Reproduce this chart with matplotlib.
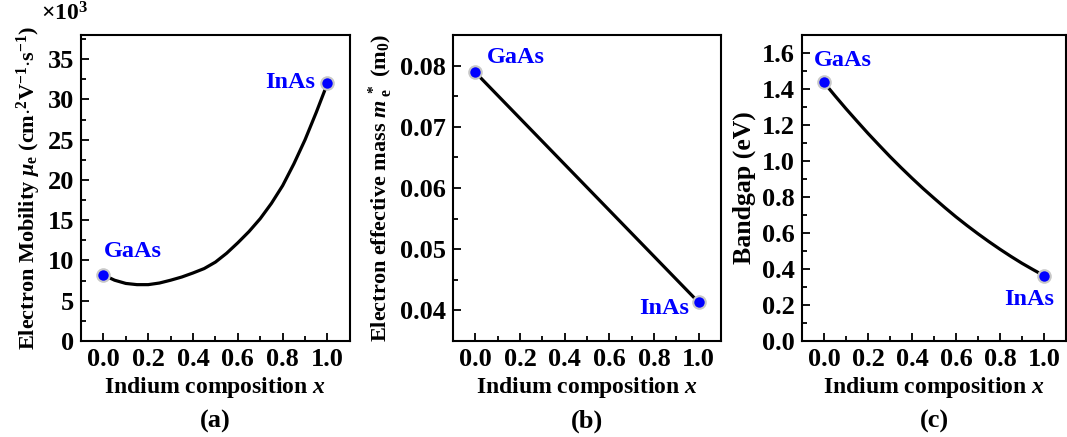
import matplotlib
matplotlib.use("Agg")
import matplotlib.pyplot as plt
from matplotlib.ticker import MultipleLocator

plt.rcParams['font.family'] = 'Liberation Serif'
plt.rcParams['font.weight'] = 'bold'
plt.rcParams['axes.labelweight'] = 'bold'
plt.rcParams['mathtext.fontset'] = 'custom'
plt.rcParams['mathtext.rm'] = 'Liberation Serif:bold'
plt.rcParams['mathtext.it'] = 'Liberation Serif:bold:italic'
plt.rcParams['mathtext.bf'] = 'Liberation Serif:bold'

# indium composition for curves
x_comp = [0.0, 0.05, 0.1, 0.15, 0.2, 0.25, 0.3, 0.35, 0.4, 0.45, 0.5,
          0.55, 0.6, 0.65, 0.7, 0.75, 0.8, 0.85, 0.9, 0.95, 1.0]
# electron mobility (x10^3 cm2/Vs)
mobility = [8.2, 7.55, 7.15, 7.0, 7.0, 7.2, 7.55, 7.95, 8.45, 9.0, 9.8,
            10.9, 12.2, 13.6, 15.2, 17.1, 19.3, 22.0, 25.0, 28.4, 32.0]
# bandgap (eV)
bandgap = [1.437, 1.363, 1.291, 1.222, 1.154, 1.089, 1.025, 0.964, 0.905, 0.848, 0.794,
           0.741, 0.690, 0.642, 0.596, 0.552, 0.510, 0.470, 0.432, 0.397, 0.363]
# effective mass (m0), end points only
x_ends = [0.0, 1.0]
eff_mass = [0.0789, 0.0413]

mob_ends = [mobility[0], mobility[-1]]
gap_ends = [bandgap[0], bandgap[-1]]

tick_fs = 19
label_fs = 17
note_fs = 17.5
panel_fs = 19

fig = plt.figure(figsize=(10.67, 4.37), dpi=100)
ax1 = fig.add_axes([0.0759, 0.2197, 0.252, 0.700])
ax2 = fig.add_axes([0.4246, 0.2197, 0.2512, 0.700])
ax3 = fig.add_axes([0.7516, 0.2197, 0.2474, 0.700])


def style(ax):
    for sp in ax.spines.values():
        sp.set_linewidth(1.5)
    ax.tick_params(which='both', direction='in', top=False, right=False,
                   labelsize=tick_fs, width=1.3)
    ax.tick_params(which='major', length=6, pad=5)
    ax.tick_params(which='minor', length=3.5)
    ax.set_xlim(-0.1, 1.1)
    ax.xaxis.set_minor_locator(MultipleLocator(0.1))
    ax.set_xticks([0, 0.2, 0.4, 0.6, 0.8, 1.0])
    ax.set_xticklabels(['0.0', '0.2', '0.4', '0.6', '0.8', '1.0'])
    ax.set_xlabel('Indium composition $\\mathit{x}$', fontsize=label_fs, labelpad=3)


def ends(ax, xs, ys):
    ax.plot(xs, ys, 'o', color='#0000ff', ms=9, mec='#c8c8c8', mew=1.5, zorder=5)


# (a) mobility
ax1.plot(x_comp, mobility, color='black', lw=2.3)
ends(ax1, x_ends, mob_ends)
style(ax1)
ax1.set_ylim(0, 38)
ax1.yaxis.set_major_locator(MultipleLocator(5))
ax1.yaxis.set_minor_locator(MultipleLocator(2.5))
ax1.set_ylabel('Electron Mobility $\\mathit{\\mu}_{\\mathrm{e}}$ (cm$\\cdot^{2}$V$^{-1}$$\\cdot$s$^{-1}$)',
               fontsize=16, labelpad=3)
ax1.text(-0.15, 1.03, '$\\times10^{3}$', transform=ax1.transAxes, fontsize=17,
         ha='left', va='bottom')
ax1.annotate('GaAs', (x_ends[0], mob_ends[0]), xytext=(0, 9), textcoords='offset points',
             color='#0000ff', fontsize=note_fs, ha='left', va='bottom')
ax1.annotate('InAs', (x_ends[1], mob_ends[1]), xytext=(-9, 1), textcoords='offset points',
             color='#0000ff', fontsize=note_fs, ha='right', va='center')
ax1.text(0.5, -0.262, '(a)', transform=ax1.transAxes, fontsize=panel_fs, ha='center', va='center')

# (b) effective mass
ax2.plot(x_ends, eff_mass, color='black', lw=2.3)
ends(ax2, x_ends, eff_mass)
style(ax2)
ax2.set_ylim(0.035, 0.085)
ax2.yaxis.set_minor_locator(MultipleLocator(0.005))
ax2.set_yticks([0.04, 0.05, 0.06, 0.07, 0.08])
ax2.set_yticklabels(['0.04', '0.05', '0.06', '0.07', '0.08'])
ax2.set_ylabel('Electron effective mass $\\mathit{m}_{\\ \\mathrm{e}}^{\\ *}$ (m$_{0}$)',
               fontsize=16, labelpad=4)
ax2.annotate('GaAs', (x_ends[0], eff_mass[0]), xytext=(8, 3), textcoords='offset points',
             color='#0000ff', fontsize=note_fs, ha='left', va='bottom')
ax2.annotate('InAs', (x_ends[1], eff_mass[1]), xytext=(-7, -4), textcoords='offset points',
             color='#0000ff', fontsize=note_fs, ha='right', va='center')
ax2.text(0.5, -0.262, '(b)', transform=ax2.transAxes, fontsize=panel_fs, ha='center', va='center')

# (c) bandgap
ax3.plot(x_comp, bandgap, color='black', lw=2.3)
ends(ax3, x_ends, gap_ends)
style(ax3)
ax3.set_ylim(0, 1.7)
ax3.yaxis.set_minor_locator(MultipleLocator(0.1))
ax3.set_yticks([0, 0.2, 0.4, 0.6, 0.8, 1.0, 1.2, 1.4, 1.6])
ax3.set_yticklabels(['0.0', '0.2', '0.4', '0.6', '0.8', '1.0', '1.2', '1.4', '1.6'])
ax3.set_ylabel('Bandgap (eV)', fontsize=18.5, labelpad=4)
ax3.annotate('GaAs', (x_ends[0], gap_ends[0]), xytext=(-7, 8), textcoords='offset points',
             color='#0000ff', fontsize=note_fs, ha='left', va='bottom')
ax3.annotate('InAs', (x_ends[1], gap_ends[1]), xytext=(7, -17), textcoords='offset points',
             color='#0000ff', fontsize=note_fs, ha='right', va='center')
ax3.text(0.5, -0.262, '(c)', transform=ax3.transAxes, fontsize=panel_fs, ha='center', va='center')

fig.savefig('out.png', dpi=100)
